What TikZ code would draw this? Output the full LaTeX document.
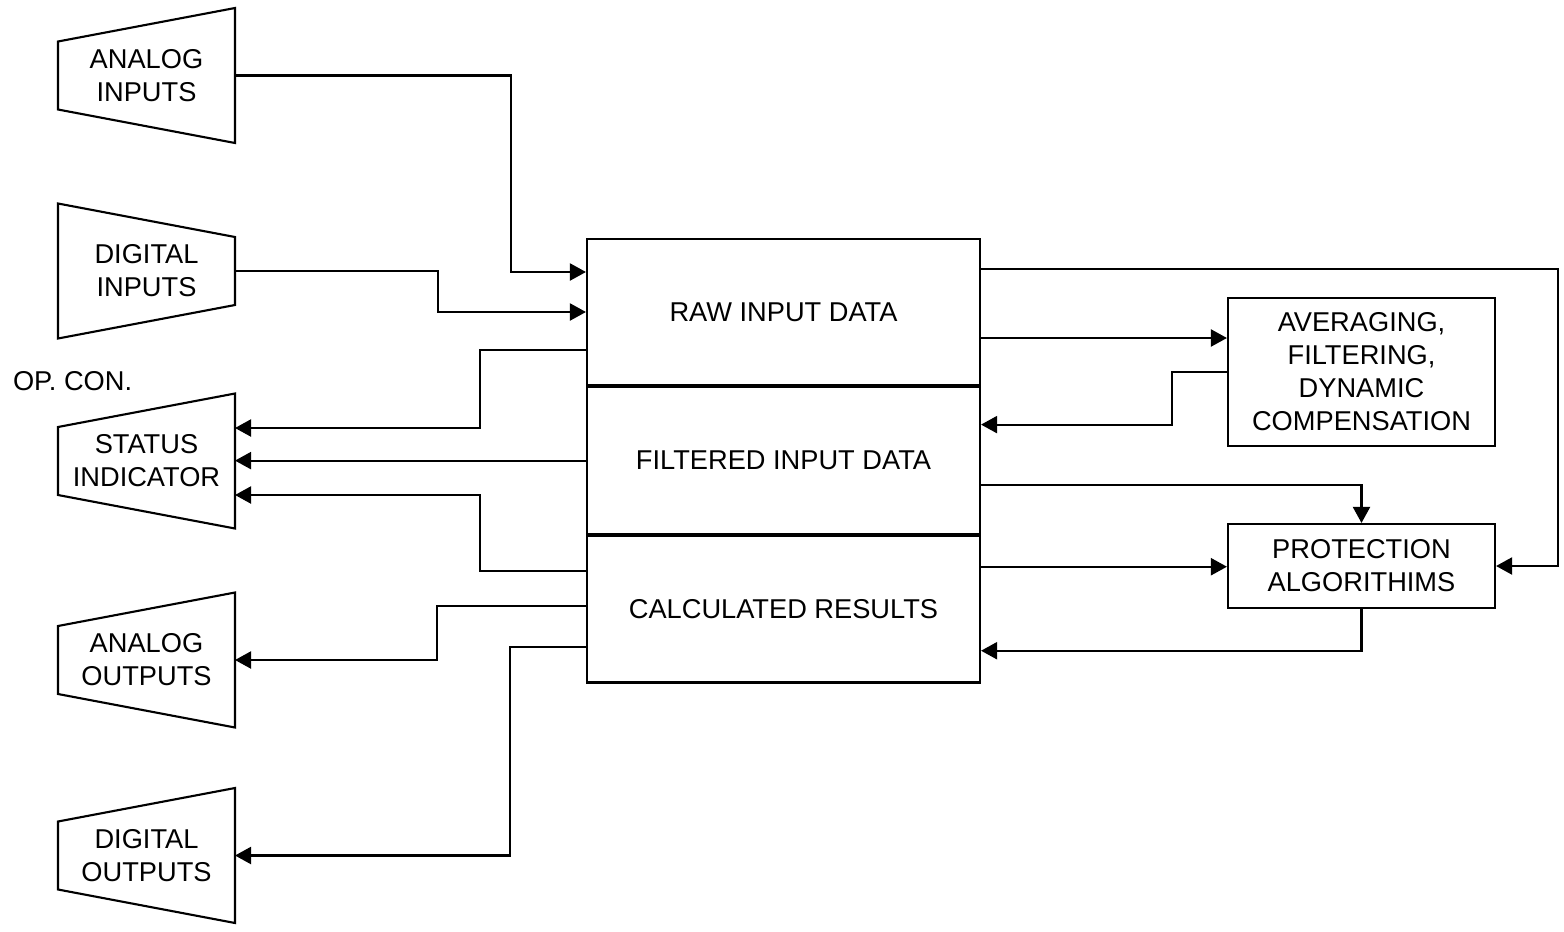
\documentclass[tikz,border=0pt]{standalone}
\usepackage{fontspec}
\setmainfont{Liberation Sans}
\usetikzlibrary{positioning,arrows.meta}
\tikzset{
  iobox/.style={minimum width=1.77cm, minimum height=1.35cm, inner sep=0pt, outer sep=0pt, align=center},
  datablk/.style={draw, minimum width=3.93cm, minimum height=1.465cm, inner sep=0pt},
  procbox/.style={draw, minimum width=2.67cm, inner sep=0pt, align=center}
}
\begin{document}
\begin{tikzpicture}[>={Triangle[length=1.6mm,width=1.7mm]}, line width=0.6pt, font=\fontsize{7.75}{9.4}\selectfont]
 \useasboundingbox (0,0) rectangle (15.64,9.31);
 % inputs and outputs
 \node[iobox] (ai) at (1.465,8.555) {ANALOG\\INPUTS};
 \node[iobox] (di) at (1.465,6.60) {DIGITAL\\INPUTS};
 \node[iobox] (si) at (1.465,4.70) {STATUS\\INDICATOR};
 \node[iobox] (ao) at (1.465,2.71) {ANALOG\\OUTPUTS};
 \node[iobox] (do) at (1.465,0.755) {DIGITAL\\OUTPUTS};
 \foreach \n in {ai,si,ao,do}
   \draw (\n.north east) -- (\n.south east) -- ([yshift=3.35mm]\n.south west) -- ([yshift=-3.35mm]\n.north west) -- cycle;
 \draw (di.north west) -- (di.south west) -- ([yshift=3.35mm]di.south east) -- ([yshift=-3.35mm]di.north east) -- cycle;
 \node[anchor=west, inner sep=0pt] (opcon) at (0.12,5.5) {OP. CON.};
 % data blocks
 \node[datablk] (raw) at (7.835,6.19) {RAW INPUT DATA};
 \node[datablk, below=0pt of raw] (filt) {FILTERED INPUT DATA};
 \node[datablk, below=0pt of filt] (calc) {CALCULATED RESULTS};
 \node[procbox, minimum height=1.48cm] (avg) at (13.615,5.59) {AVERAGING,\\FILTERING,\\DYNAMIC\\COMPENSATION};
 \node[procbox, minimum height=0.84cm] (prot) at (13.615,3.65) {PROTECTION\\ALGORITHIMS};
 % left side
 \draw[->] (ai.east) -- ++(2.76,0) |- ([yshift=4mm]raw.west);
 \draw[->] (di.east) -- ++(2.03,0) |- (raw.west);
 \draw[->] ([yshift=-3.8mm]raw.west) -- ++(-1.06,0) |- ([yshift=3.3mm]si.east);
 \draw[->] (filt.west) -- (filt.west -| si.east);
 \draw[->] ([yshift=3.85mm]calc.west) -- ++(-1.06,0) |- ([yshift=-3.4mm]si.east);
 \draw[->] ([yshift=0.35mm]calc.west) -- ++(-1.49,0) |- (ao.east);
 \draw[->] ([yshift=-3.75mm]calc.west) -- ++(-0.76,0) |- (do.east);
 % right side
 \draw[->] ([yshift=4.3mm]raw.east) -- ++(5.77,0) |- (prot.east);
 \draw[->] ([yshift=-2.6mm]raw.east) -- ([yshift=-2.6mm]raw.east -| avg.west);
 \draw[->] (avg.west) -- ++(-0.55,0) |- ([yshift=3.6mm]filt.east);
 \draw[->] ([yshift=-2.4mm]filt.east) -| (prot.north);
 \draw[->] ([yshift=4.25mm]calc.east) -- ([yshift=4.25mm]calc.east -| prot.west);
 \draw[->] (prot.south) |- ([yshift=-4.15mm]calc.east);
\end{tikzpicture}
\end{document}
